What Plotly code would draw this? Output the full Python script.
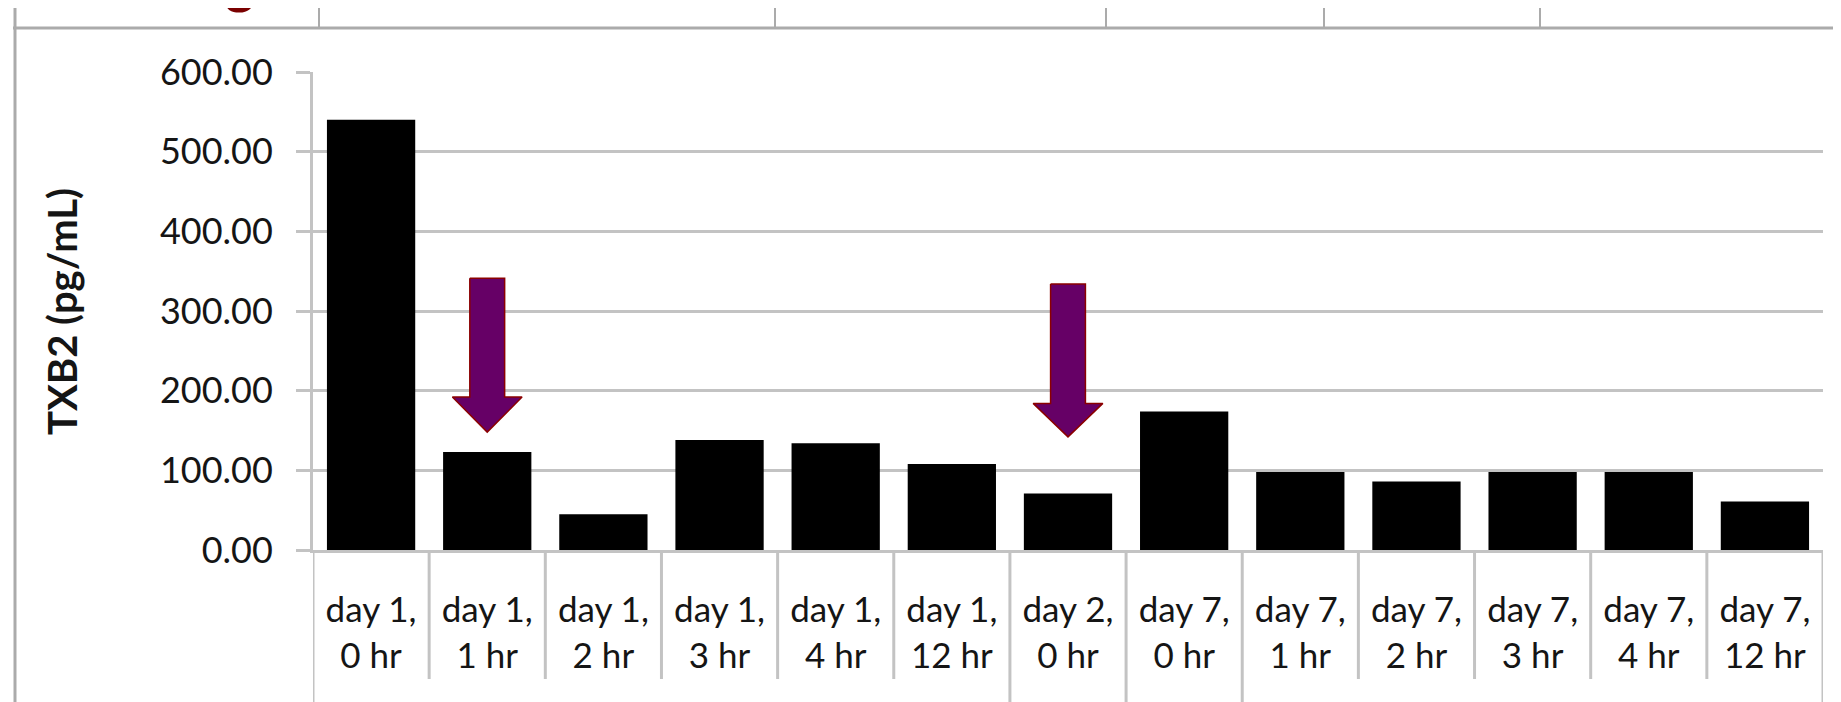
import plotly.graph_objects as go

# ---------------- data ----------------
categories = ["day 1,<br>0 hr", "day 1,<br>1 hr", "day 1,<br>2 hr", "day 1,<br>3 hr",
              "day 1,<br>4 hr", "day 1,<br>12 hr", "day 2,<br>0 hr", "day 7,<br>0 hr",
              "day 7,<br>1 hr", "day 7,<br>2 hr", "day 7,<br>3 hr", "day 7,<br>4 hr",
              "day 7,<br>12 hr"]
txb2_values = [540, 123, 45, 138, 134, 108, 71, 174, 98, 86, 98, 98, 61]
y_tick_values = [0, 100, 200, 300, 400, 500, 600]
y_title = "TXB2 (pg/mL)"

# arrows pointing at doses (category index, top, neck, tip in pg/mL)
arrow_index = [1, 6]
arrow_top = [341, 334]
arrow_neck = [192, 184]
arrow_tip = [148, 142]

# category-table group boundaries (indices of category edges that run to the bottom)
group_edges = [0, 6, 7, 8, 13]

# ---------------- layout geometry ----------------
VW, VH = 1841, 702          # browser viewport
OFF = 8                     # default page body margin
W, H = VW - OFF, VH - OFF   # figure size so it ends exactly at the viewport edge
PLOT_L, PLOT_R, PLOT_T, PLOT_B = 313, 1823, 72, 550   # plot area in viewport px
ML, MR, MT, MB = PLOT_L - OFF, VW - PLOT_R, PLOT_T - OFF, VH - PLOT_B
PW, PH = PLOT_R - PLOT_L, PLOT_B - PLOT_T

def px_x(p):
    return (p - PLOT_L) / PW

def px_y(p):
    return (PLOT_B - p) / PH

GRID = "#C3C3C3"
BORDER = "#ABABAB"
TXT = "#151515"
FONT = "Lato"

n = len(categories)
xs = list(range(n))

fig = go.Figure()
fig.add_trace(go.Bar(x=xs, y=txb2_values, width=0.76,
                     marker=dict(color="black", line=dict(width=0)),
                     showlegend=False, hoverinfo="y"))

# arrows
shaft_hw, head_hw = 0.15, 0.30
for ci, top, neck, tip in zip(arrow_index, arrow_top, arrow_neck, arrow_tip):
    ax = [ci - shaft_hw, ci + shaft_hw, ci + shaft_hw, ci + head_hw, ci,
          ci - head_hw, ci - shaft_hw, ci - shaft_hw]
    ay = [top, top, neck, neck, tip, neck, neck, top]
    fig.add_trace(go.Scatter(x=ax, y=ay, mode="lines", fill="toself",
                             fillcolor="#660066",
                             line=dict(color="#8B0000", width=1.5),
                             showlegend=False, hoverinfo="skip"))

shapes = []
# category separators
for i in range(n + 1):
    bottom = px_y(VH + 5) if i in group_edges else px_y(679)
    shapes.append(dict(type="line", xref="x", yref="paper",
                       x0=i - 0.5, x1=i - 0.5, y0=0, y1=bottom,
                       line=dict(color=GRID, width=3), layer="above"))
# outer chart border (top and left)
shapes.append(dict(type="line", xref="paper", yref="paper",
                   x0=px_x(13), x1=px_x(VW + 5), y0=px_y(28), y1=px_y(28),
                   line=dict(color=BORDER, width=3)))
shapes.append(dict(type="line", xref="paper", yref="paper",
                   x0=px_x(15), x1=px_x(15), y0=px_y(7), y1=px_y(VH + 5),
                   line=dict(color=BORDER, width=3)))
for tx in [319, 775, 1106, 1324, 1540]:
    shapes.append(dict(type="line", xref="paper", yref="paper",
                       x0=px_x(tx), x1=px_x(tx), y0=px_y(7), y1=px_y(28),
                       line=dict(color=BORDER, width=2)))

annotations = [
    dict(text="<b>" + y_title + "</b>", xref="paper", yref="paper",
         x=px_x(62), y=0.5, textangle=-90, showarrow=False,
         xanchor="center", yanchor="middle",
         font=dict(family=FONT, size=40, color=TXT)),
    dict(text="<b>g</b>", xref="paper", yref="paper",
         x=px_x(240), y=px_y(17), showarrow=False,
         xanchor="center", yanchor="bottom",
         font=dict(family=FONT, size=56, color="#7A0000")),
]

fig.update_layout(
    width=W, height=H,
    margin=dict(l=ML, r=MR, t=MT, b=MB, autoexpand=False),
    paper_bgcolor="white", plot_bgcolor="white",
    bargap=0.24,
    shapes=shapes, annotations=annotations,
    font=dict(family=FONT, color=TXT),
)
fig.update_xaxes(range=[-0.5, n - 0.5], tickmode="array", tickvals=xs,
                 ticktext=categories, ticks="", showgrid=False, zeroline=False,
                 showline=True, linecolor=GRID, linewidth=3,
                 tickfont=dict(family=FONT, size=35, color=TXT),
                 ticklabelstandoff=27, automargin=False, fixedrange=True)
fig.update_yaxes(range=[0, 600], tickmode="array", tickvals=y_tick_values,
                 tickformat=".2f", ticks="outside", ticklen=14, tickwidth=3,
                 tickcolor=GRID, showgrid=True, gridcolor=GRID, gridwidth=3,
                 zeroline=False, showline=True, linecolor=GRID, linewidth=3,
                 tickfont=dict(family=FONT, size=36, color=TXT),
                 ticklabelstandoff=16, automargin=False, fixedrange=True)

fig.write_html("out.html")
